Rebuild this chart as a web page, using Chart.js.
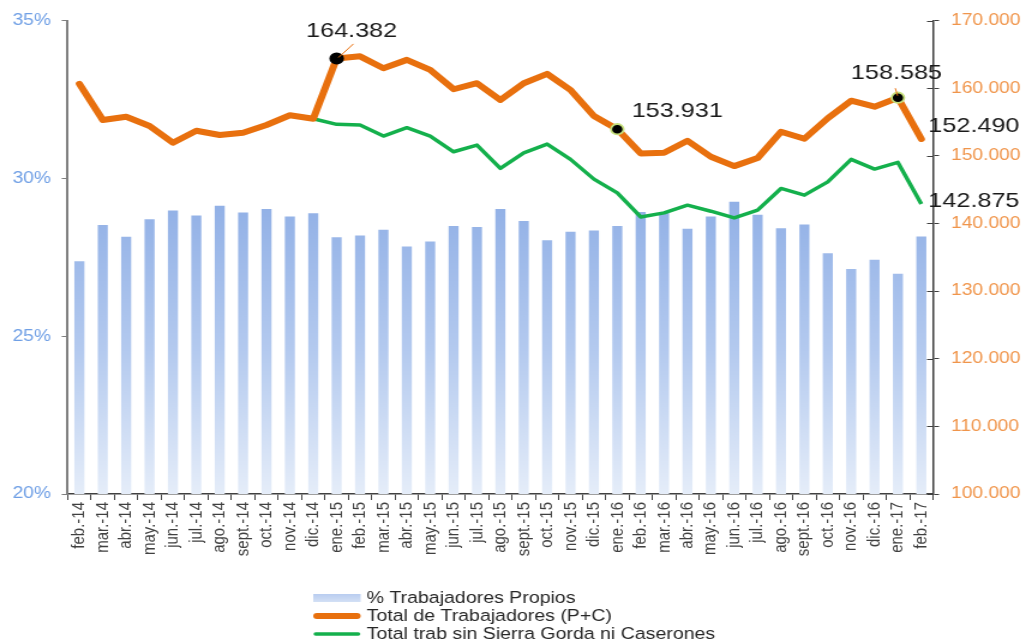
<!DOCTYPE html>
<html>
<head>
<meta charset="utf-8">
<script src="https://cdn.jsdelivr.net/npm/chart.js@4/dist/chart.umd.min.js"></script>
<style>
html,body{margin:0;padding:0;background:#fff;overflow:hidden}
</style>
</head>
<body>
<canvas id="c" width="855" height="644" style="display:block;width:1026px;height:644px"></canvas>
<script>
// ---------- DATA ----------
const months = ["feb.-14","mar.-14","abr.-14","may.-14","jun.-14","jul.-14","ago.-14","sept.-14","oct.-14","nov.-14","dic.-14",
  "ene.-15","feb.-15","mar.-15","abr.-15","may.-15","jun.-15","jul.-15","ago.-15","sept.-15","oct.-15","nov.-15","dic.-15",
  "ene.-16","feb.-16","mar.-16","abr.-16","may.-16","jun.-16","jul.-16","ago.-16","sept.-16","oct.-16","nov.-16","dic.-16",
  "ene.-17","feb.-17"];

const pctPropios = [27.37,28.52,28.15,28.70,28.98,28.82,29.13,28.92,29.03,28.79,28.89,
  28.13,28.19,28.37,27.84,28.00,28.49,28.46,29.03,28.65,28.04,28.31,28.35,
  28.49,28.93,28.90,28.40,28.79,29.26,28.85,28.42,28.54,27.63,27.13,27.42,
  26.98,28.16];

const totalTrab = [160622,155289,155778,154400,151926,153704,153067,153407,154548,155985,155481,
  164382,164700,162948,164178,162696,159837,160726,158252,160726,162104,159733,155881,
  153931,150356,150444,152222,149852,148474,149659,153556,152519,155541,158148,157259,
  158585,152490];

const totalSinSGC = [null,null,null,null,null,null,null,null,null,null,155481,
  154652,154548,152919,154148,152919,150593,151585,148133,150444,151733,149467,146548,
  144519,140963,141556,142696,141807,140815,141956,145170,144178,146148,149467,148030,
  149022,142875];

const leftTickValues = [20,25,30,35];
const rightTickValues = [100000,110000,120000,130000,140000,150000,160000,170000];

const seriesLabels = ["% Trabajadores Propios","Total de Trabajadores (P+C)","Total trab sin Sierra Gorda ni Caserones"];

// callouts: dataset index, point index
const callouts = [
  {ds:1, idx:11, dot:true,  ring:'#000000', dx:12.5, dy:-27.6, leader:[1.5,-1,14,-14.6]},
  {ds:1, idx:23, dot:true,  ring:'#c5df7c', dx:50,   dy:-18,   leader:null},
  {ds:1, idx:35, dot:true,  ring:'#c5df7c', dx:-1.2, dy:-24.4, leader:[-0.3,-2,-2.2,-9.5]},
  {ds:1, idx:36, dot:false, ring:null,      dx:43.8, dy:-13,   leader:null},
  {ds:2, idx:36, dot:false, ring:null,      dx:43.8, dy:-3,    leader:null}
];

// ---------- HELPERS ----------
function fmt(v){ return String(Math.round(v)).replace(/\B(?=(\d{3})+(?!\d))/g,'.'); }
const FONT = '"Liberation Sans", Arial, Helvetica, sans-serif';
Chart.defaults.font.family = FONT;

const ORANGE = '#e8700e';
const GREEN = '#14b04c';

function barFill(ctx){
  const ch = ctx.chart; const a = ch.chartArea;
  if(!a) return '#a9c1ec';
  const g = ch.ctx.createLinearGradient(0, a.top, 0, a.bottom);
  g.addColorStop(0, '#7fa3df');
  g.addColorStop(0.38, '#91b0e6');
  g.addColorStop(0.7, '#b4caef');
  g.addColorStop(1, '#e5edf9');
  return g;
}

function calloutFor(ds, i){ return callouts.find(c => c.ds === ds && c.idx === i && c.dot); }

const decor = {
  id:'decor',
  afterDatasetsDraw(chart){
    const c = chart.ctx, a = chart.chartArea;
    const y1 = chart.scales.y1;
    c.save();
    c.strokeStyle = '#404040'; c.lineWidth = 1;
    y1.ticks.forEach(t => {
      const y = Math.round(y1.getPixelForValue(t.value)) + 0.5;
      c.beginPath(); c.moveTo(a.right - 5, y); c.lineTo(a.right, y); c.stroke();
    });
    callouts.forEach(co => {
      const el = chart.getDatasetMeta(co.ds).data[co.idx];
      const val = chart.data.datasets[co.ds].data[co.idx];
      if(co.leader){
        c.strokeStyle = ORANGE; c.lineWidth = 1;
        c.beginPath();
        c.moveTo(el.x + co.leader[0], el.y + co.leader[1]);
        c.lineTo(el.x + co.leader[2], el.y + co.leader[3]);
        c.stroke();
      }
      c.fillStyle = '#1a1a1a';
      c.font = '21px ' + FONT;
      c.textAlign = 'center'; c.textBaseline = 'middle';
      c.fillText(fmt(val), el.x + co.dx, el.y + co.dy);
    });
    c.restore();
  },
  afterDraw(chart){
    const c = chart.ctx;
    c.save();
    const x0 = 261, x1 = 300.5, tx = 305.5;
    const ys = [598, 616, 634];
    const g = c.createLinearGradient(0, ys[0]-4, 0, ys[0]+4);
    g.addColorStop(0, '#b9cdf0'); g.addColorStop(1, '#d3e0f5');
    c.fillStyle = g;
    c.fillRect(x0, ys[0]-4, x1-x0, 8);
    c.lineCap = 'round';
    c.strokeStyle = ORANGE; c.lineWidth = 6;
    c.beginPath(); c.moveTo(x0+3, ys[1]); c.lineTo(x1-3, ys[1]); c.stroke();
    c.strokeStyle = GREEN; c.lineWidth = 3.5;
    c.beginPath(); c.moveTo(x0+2, ys[2]); c.lineTo(x1-2, ys[2]); c.stroke();
    c.fillStyle = '#262626';
    c.font = '16.3px ' + FONT;
    c.textAlign = 'left'; c.textBaseline = 'middle';
    seriesLabels.forEach((t, i) => c.fillText(t, tx, ys[i] + 1));
    c.restore();
  }
};

new Chart(document.getElementById('c'), {
  data: {
    labels: months,
    datasets: [
      {
        type:'bar', label: seriesLabels[0], data: pctPropios, yAxisID:'y',
        backgroundColor: barFill, borderWidth: 0,
        barPercentage: 0.43, categoryPercentage: 1, order: 3
      },
      {
        type:'line', label: seriesLabels[1], data: totalTrab, yAxisID:'y1',
        borderColor: ORANGE, borderWidth: 6, tension: 0,
        borderJoinStyle:'round', borderCapStyle:'round',
        pointRadius: ctx => calloutFor(1, ctx.dataIndex) ? 5.2 : 0,
        pointBackgroundColor: '#000',
        pointBorderColor: ctx => { const co = calloutFor(1, ctx.dataIndex); return co ? co.ring : 'transparent'; },
        pointBorderWidth: 1.8,
        order: 1
      },
      {
        type:'line', label: seriesLabels[2], data: totalSinSGC, yAxisID:'y1',
        borderColor: GREEN, borderWidth: 3.5, tension: 0,
        borderJoinStyle:'round', pointRadius: 0, spanGaps: false,
        order: 2
      }
    ]
  },
  options: {
    responsive: false,
    animation: false,
    devicePixelRatio: 1,
    layout: { padding: { top: 20.5, left: 0, right: 0, bottom: 0 } },
    plugins: { legend: { display: false }, tooltip: { enabled: false } },
    scales: {
      x: {
        type:'category', offset: true,
        grid: { offset: true, drawOnChartArea: false, drawTicks: true, tickLength: 6, color: '#404040', lineWidth: 1 },
        border: { display: true, color: '#404040', width: 1.5 },
        ticks: { autoSkip: false, minRotation: 90, maxRotation: 90, padding: 2, color: '#404040', font: { size: 15 } },
        afterFit(s){ s.height = 150; }
      },
      y: {
        position:'left', min: 20, max: 35,
        afterBuildTicks(s){ s.ticks = leftTickValues.map(v => ({value: v})); },
        ticks: { callback: v => v + '%', color: '#6f9fe5', font: { size: 16 }, padding: 9 },
        grid: { drawOnChartArea: false, drawTicks: true, tickLength: 5, color: '#7f7f7f' },
        border: { display: true, color: '#7f7f7f', width: 2 },
        afterFit(s){ s.width = 56.4; }
      },
      y1: {
        position:'right', min: 100000, max: 170000,
        afterBuildTicks(s){ s.ticks = rightTickValues.map(v => ({value: v})); },
        ticks: { callback: v => fmt(v), color: '#f0954b', font: { size: 16 }, padding: 10 },
        grid: { drawOnChartArea: false, drawTicks: true, tickLength: 5, color: '#404040' },
        border: { display: true, color: '#404040', width: 1.5 },
        afterFit(s){ s.width = 77.5; }
      }
    }
  },
  plugins: [decor]
});
</script>
</body>
</html>
